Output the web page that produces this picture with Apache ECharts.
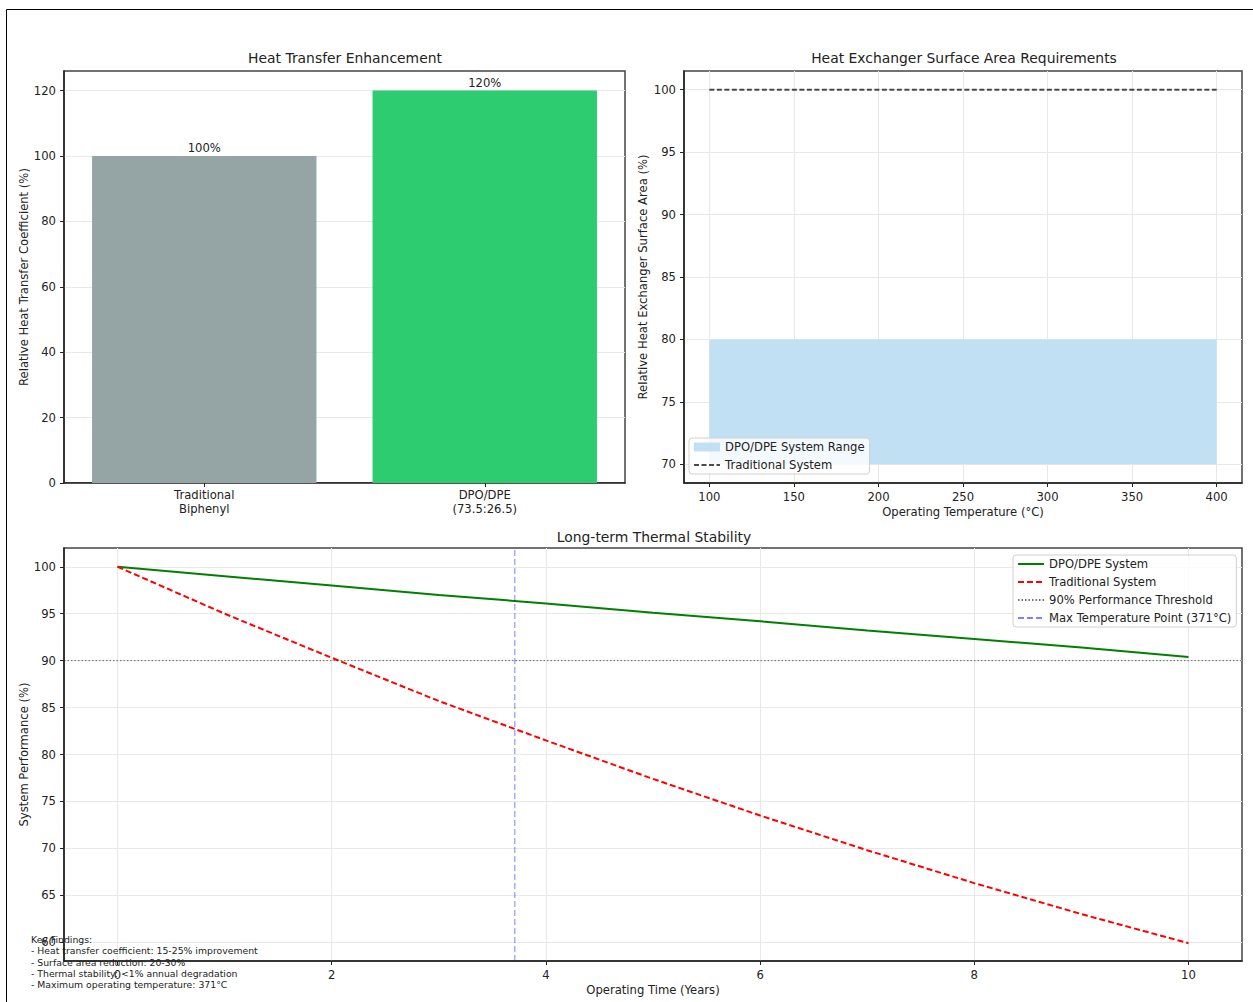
<!DOCTYPE html>
<html><head><meta charset="utf-8">
<script src="https://cdn.jsdelivr.net/npm/echarts@6/dist/echarts.min.js"></script>
<style>html,body{margin:0;padding:0;background:#fff}#c{width:1253px;height:1002px}</style>
</head><body><div id="c"></div>
<script>
// ---- data ----
const barCategories = ['Traditional\nBiphenyl', 'DPO/DPE\n(73.5:26.5)'];
const barValues = [100, 120];
const barColors = ['#95a5a6', '#2ecc71'];
const barTicks = [0, 20, 40, 60, 80, 100, 120];

const tempRange = [100, 400];
const dpoAreaRange = [70, 80];
const traditionalArea = 100;
const tempTicks = [100, 150, 200, 250, 300, 350, 400];
const areaTicks = [70, 75, 80, 85, 90, 95, 100];

const years = [0, 1, 2, 3, 4, 5, 6, 7, 8, 9, 10];
const dpoPerformance = [100, 99.0, 98.0, 97.0, 96.1, 95.1, 94.2, 93.2, 92.3, 91.4, 90.4];
const traditionalPerformance = [100, 95.0, 90.3, 85.7, 81.5, 77.4, 73.5, 69.8, 66.3, 63.0, 59.9];
const thresholdValue = 90;
const maxTempYear = 3.71;
const yearTicks = [0, 2, 4, 6, 8, 10];
const perfTicks = [60, 65, 70, 75, 80, 85, 90, 95, 100];

const keyFindings = [
  'Key Findings:',
  '- Heat transfer coefficient: 15-25% improvement',
  '- Surface area reduction: 20-30%',
  '- Thermal stability: <1% annual degradation',
  '- Maximum operating temperature: 371\u00B0C'
];

// ---- axis extents ----
const barY = [0, 126];
const tempX = [85, 415];
const areaY = [68.5, 101.5];
const yearX = [-0.5, 10.5];
const perfY = [58, 102];

const FONT = 'DejaVu Sans';
const TXT = '#222';
const FS = 11.6;
const TFS = 13.9;

function valAxis(gridIndex, ext, ticks, extra) {
  return Object.assign({
    type: 'value', gridIndex: gridIndex, min: ext[0], max: ext[1],
    nameMoveOverlap: false,
    axisLine: {show: true, onZero: false, lineStyle: {color: '#222', width: 1.5}},
    axisTick: {show: true, length: 4, lineStyle: {color: '#222'}, customValues: ticks},
    axisLabel: {customValues: ticks, fontSize: FS, color: TXT, fontFamily: FONT, margin: 8},
    splitLine: {show: true, lineStyle: {color: '#e8e8e8', width: 1}},
    nameLocation: 'middle',
    nameTextStyle: {fontSize: FS, color: TXT, fontFamily: FONT}
  }, extra || {});
}

const gridStyle = {show: true, borderColor: '#444', borderWidth: 1.5, containLabel: false};
const legendCommon = {
  orient: 'vertical', selectedMode: false,
  itemWidth: 26, itemHeight: 9, itemGap: 6, padding: [3, 5, 3, 4],
  itemStyle: {opacity: 0},
  backgroundColor: 'rgba(255,255,255,0.8)', borderColor: '#d0d0d0', borderWidth: 1, borderRadius: 3,
  textStyle: {fontSize: FS, color: TXT, fontFamily: FONT}
};

const option = {
  animation: false,
  backgroundColor: '#fff',
  textStyle: {fontFamily: FONT},
  title: [
    {text: 'Heat Transfer Enhancement', left: 340, top: 46, textAlign: 'center',
     textStyle: {fontSize: TFS, fontWeight: 'normal', color: TXT, fontFamily: FONT}},
    {text: 'Heat Exchanger Surface Area Requirements', left: 959, top: 46, textAlign: 'center',
     textStyle: {fontSize: TFS, fontWeight: 'normal', color: TXT, fontFamily: FONT}},
    {text: 'Long-term Thermal Stability', left: 649, top: 525, textAlign: 'center',
     textStyle: {fontSize: TFS, fontWeight: 'normal', color: TXT, fontFamily: FONT}}
  ],
  grid: [
    Object.assign({left: 64, top: 71, width: 561, height: 412}, gridStyle),
    Object.assign({left: 684, top: 71, width: 558, height: 412}, gridStyle),
    Object.assign({left: 64, top: 548, width: 1178, height: 413}, gridStyle)
  ],
  xAxis: [
    {type: 'category', gridIndex: 0, data: barCategories,
     axisLine: {show: true, lineStyle: {color: '#222', width: 1.5}},
     axisTick: {show: true, alignWithLabel: true, length: 4, lineStyle: {color: '#222'}},
     axisLabel: {fontSize: FS, color: TXT, fontFamily: FONT, lineHeight: 14, margin: 5},
     splitLine: {show: false}},
    valAxis(1, tempX, tempTicks, {name: 'Operating Temperature (\u00B0C)', nameGap: 23}),
    valAxis(2, yearX, yearTicks, {name: 'Operating Time (Years)', nameGap: 23})
  ],
  yAxis: [
    valAxis(0, barY, barTicks, {name: 'Relative Heat Transfer Coefficient (%)', nameGap: 34}),
    valAxis(1, areaY, areaTicks, {name: 'Relative Heat Exchanger Surface Area (%)', nameGap: 35}),
    valAxis(2, perfY, perfTicks, {name: 'System Performance (%)', nameGap: 34})
  ],
  legend: [
    Object.assign({}, legendCommon, {left: 689, top: 438,
     data: [{name: 'DPO/DPE System Range', icon: 'rect', itemStyle: {opacity: 1, color: '#c2e0f4'}}, 'Traditional System']}),
    Object.assign({}, legendCommon, {left: 1013, top: 555,
     data: ['DPO/DPE System', 'Traditional System (long-term)', '90% Performance Threshold', 'Max Temperature Point (371\u00B0C)'],
     formatter: function (n) { return n === 'Traditional System (long-term)' ? 'Traditional System' : n; }})
  ],
  series: [
    {type: 'bar', xAxisIndex: 0, yAxisIndex: 0, barWidth: '80%',
     data: barValues.map((v, i) => ({value: v, itemStyle: {color: barColors[i]}})),
     label: {show: true, position: 'top', distance: 2, formatter: '{c}%', fontSize: FS, color: TXT, fontFamily: FONT}},
    {type: 'line', name: 'DPO/DPE System Range', xAxisIndex: 1, yAxisIndex: 1,
     data: tempRange.map(t => [t, dpoAreaRange[1]]), symbol: 'none',
     itemStyle: {color: '#c2e0f4'},
     lineStyle: {width: 0, color: '#c2e0f4'},
     areaStyle: {origin: dpoAreaRange[0], color: '#c2e0f4', opacity: 1}},
    {type: 'line', name: 'Traditional System', xAxisIndex: 1, yAxisIndex: 1,
     data: tempRange.map(t => [t, traditionalArea]), symbol: 'none',
     itemStyle: {color: 'rgba(0,0,0,0.7)'},
     lineStyle: {width: 2, color: 'rgba(0,0,0,0.7)', type: [5, 2.5]}},
    {type: 'line', name: 'DPO/DPE System', xAxisIndex: 2, yAxisIndex: 2,
     data: years.map((y, i) => [y, dpoPerformance[i]]), symbol: 'none',
     itemStyle: {color: '#008000'}, lineStyle: {width: 2, color: '#008000'}},
    {type: 'line', name: 'Traditional System (long-term)', xAxisIndex: 2, yAxisIndex: 2,
     data: years.map((y, i) => [y, traditionalPerformance[i]]), symbol: 'none',
     itemStyle: {color: '#ff0000'}, lineStyle: {width: 2, color: '#ff0000', type: [6, 3]}},
    {type: 'line', name: '90% Performance Threshold', xAxisIndex: 2, yAxisIndex: 2,
     data: yearX.map(x => [x, thresholdValue]), symbol: 'none',
     itemStyle: {color: 'rgba(0,0,0,0.55)'}, lineStyle: {width: 1, color: 'rgba(0,0,0,0.55)', type: [1.5, 2]}},
    {type: 'line', name: 'Max Temperature Point (371\u00B0C)', xAxisIndex: 2, yAxisIndex: 2,
     data: perfY.map(y => [maxTempYear, y]), symbol: 'none',
     itemStyle: {color: 'rgba(0,0,255,0.5)'}, lineStyle: {width: 1, color: 'rgba(0,0,255,0.5)', type: [6, 3]}}
  ],
  graphic: [
    {type: 'rect', silent: true, z: 0, shape: {x: 6.5, y: 9.5, width: 1300, height: 1100},
     style: {fill: 'none', stroke: '#000', lineWidth: 1}},
    {type: 'text', left: 31, top: 934, z: 100,
     style: {text: keyFindings.join('\n'), font: '9.3px "DejaVu Sans"', lineHeight: 11.2, fill: TXT}}
  ]
};

const chart = echarts.init(document.getElementById('c'), null, {renderer: 'svg'});
chart.setOption(option);
</script>
</body></html>
